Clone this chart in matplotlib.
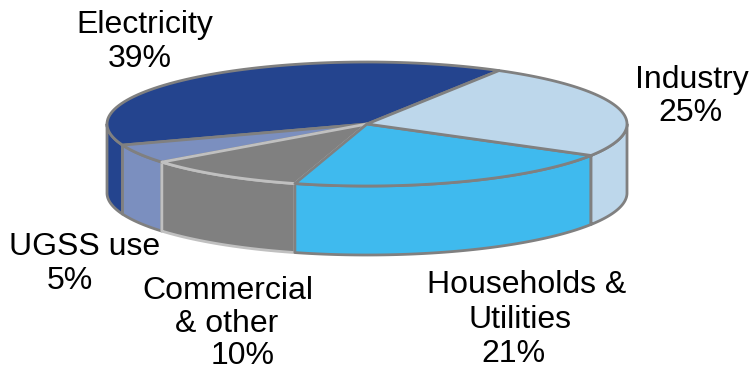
# coding=utf-8
import numpy as np
import matplotlib
matplotlib.use('Agg')
import matplotlib.pyplot as plt
from matplotlib.patches import Polygon

categories = ['Electricity', 'UGSS use', 'Commercial & other', 'Households & Utilities', 'Industry']
values = [39, 5, 10, 21, 25]
colors = ['#24448E', '#7B8FBF', '#808080', '#3FBAEE', '#BDD7EB']
edges = ['#808080', '#808080', '#C0C0C0', '#808080', '#808080']

# text lines of the labels, as they are broken in the picture
label_lines = ['Electricity', '39%', 'Industry', '25%', 'Households &', 'Utilities', '21%',
               'Commercial', '& other', '10%', 'UGSS use', '5%']
label_x = [145, 140, 692, 690, 527, 520, 513, 228, 227, 243, 85, 70]
label_y = [25, 59, 80, 113, 285, 320, 354, 291, 324, 356, 247, 281]

# pie geometry in pixels
cx, cy = 367, 124
rx, ry = 260, 62
depth = 69
start = 59.5  # Industry ends here, slices go on counter clockwise from it

plt.rcParams['font.family'] = ['Liberation Sans', 'DejaVu Sans']
fig = plt.figure(figsize=(7.53, 3.70), dpi=100)
ax = fig.add_axes([0, 0, 1, 1])
ax.set_xlim(0, 753)
ax.set_ylim(370, 0)
ax.axis('off')


def rim(a0, a1, dy=0):
    t = np.radians(np.linspace(a0, a1, 80))
    return np.column_stack([cx + rx * np.cos(t), cy - ry * np.sin(t) + dy])


# slice boundaries from the values
shares = np.array(values) / sum(values) * 360
ends = start + np.cumsum(shares)
begins = ends - shares

# sides first (only the part of the rim facing the viewer)
for a0, a1, c, e in zip(begins, ends, colors, edges):
    lo = max(a0, 180)
    hi = min(a1, 360)
    if lo < hi:
        top = rim(lo, hi)
        bottom = rim(lo, hi, depth)
        ax.add_patch(Polygon(np.vstack([top, bottom[::-1]]), closed=True, fc=c, ec=e, lw=2,
                             joinstyle='round', zorder=2))
    # the part of the last slices that wraps past 360 is behind the pie, nothing to draw

# top face
for a0, a1, c, e in zip(begins, ends, colors, edges):
    pts = np.vstack([[cx, cy], rim(a0, a1)])
    ax.add_patch(Polygon(pts, closed=True, fc=c, ec=e, lw=2, joinstyle='round', zorder=3))

for s, x, y in zip(label_lines, label_x, label_y):
    ax.text(x, y, s, fontsize=23, ha='center', va='center', color='black', zorder=5)

fig.savefig('out.png', dpi=100)
